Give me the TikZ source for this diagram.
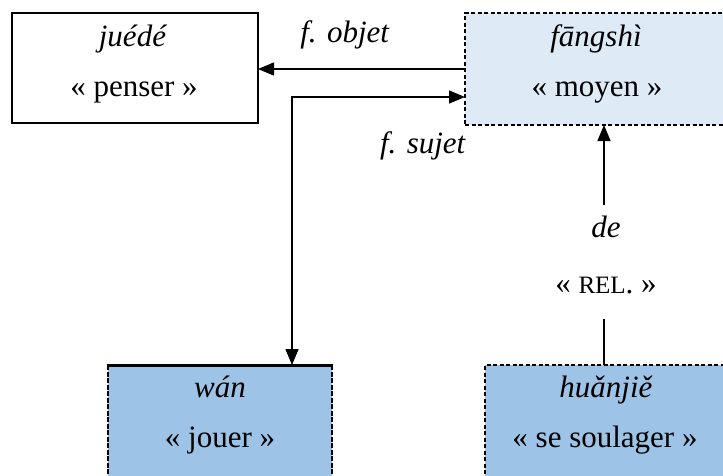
\documentclass[tikz,border=0pt]{standalone}
\usepackage{fontspec}
\setmainfont{Liberation Serif}
\usetikzlibrary{arrows.meta}
\definecolor{lightblue}{HTML}{DEEBF7}
\definecolor{midblue}{HTML}{9DC3E6}
\begin{document}
\begin{tikzpicture}[x=1pt,y=-1pt,
  txt/.style={anchor=base,inner sep=0pt,font=\fontsize{31}{31}\selectfont},
  conn/.style={line width=1.5pt,-{Triangle[length=16pt,width=13pt]}},
  bothconn/.style={line width=1.5pt,{Triangle[length=16pt,width=13pt]}-{Triangle[length=16pt,width=13pt]}},
  plain/.style={line width=1.5pt},
  box/.style={rectangle,inner sep=0pt,outer sep=0pt,anchor=north west}]
\clip (0,0) rectangle (723,475);
\fill[white] (0,0) rectangle (723,475);
% boxes
\node[box,draw,line width=2pt,fill=white,minimum width=246pt,minimum height=110pt] (juede) at (12,13) {};
\node[box,draw,line width=2pt,dash pattern=on 4pt off 2.5pt,fill=lightblue,minimum width=300pt,minimum height=112pt] (fangshi) at (465,13) {};
\node[box,fill=midblue,minimum width=224pt,minimum height=140pt] (wan) at (108,365) {};
\draw[line width=2pt,dash pattern=on 5pt off 1.5pt] (wan.north west) -- (wan.south west);
\draw[line width=2pt,dash pattern=on 5pt off 1.5pt] (wan.north east) -- (wan.south east);
\draw[line width=3pt] ([xshift=-1pt]wan.north west) -- ([xshift=1pt]wan.north east);
\node[box,draw,line width=2pt,dash pattern=on 4pt off 2.5pt,fill=midblue,minimum width=300pt,minimum height=140pt] (huan) at (485,365) {};
% texts in boxes
\node[txt] (juede1) at (133,46) {\textit{juédé}};
\node[txt] (juede2) at (134,96) {« penser »};
\node[txt] (fang1) at (596,46) {\textit{fāngshì}};
\node[txt] (fang2) at (597,96) {« moyen »};
\node[txt] (wan1) at (220,397) {\textit{wán}};
\node[txt] (wan2) at (220,447) {« jouer »};
\node[txt] (huan1) at (606,397) {\textit{huǎnjiě}};
\node[txt] (huan2) at (605,447) {« se soulager »};
% connector labels
\node[txt] (objet) at (345,42) {\textit{f. objet}};
\node[txt] (sujet) at (423,153) {\textit{f. sujet}};
\node[txt] (de) at (606,237) {\textit{de}};
\node[txt] (rel) at (606,293) {« {\fontsize{25}{25}\selectfont REL}. »};
% connectors
\coordinate (objy) at (0,69);
\draw[conn] (fangshi.west |- objy) -- (juede.east |- objy);
\coordinate (corner) at (292,97);
\draw[bothconn] (corner |- wan.north) -- (corner) -- (fangshi.west |- corner);
\coordinate (detop) at (604,205);
\draw[conn] (detop) -- (detop |- fangshi.south);
\coordinate (debot) at (604,319);
\draw[plain] (debot) -- (debot |- huan.north);
\end{tikzpicture}
\end{document}
